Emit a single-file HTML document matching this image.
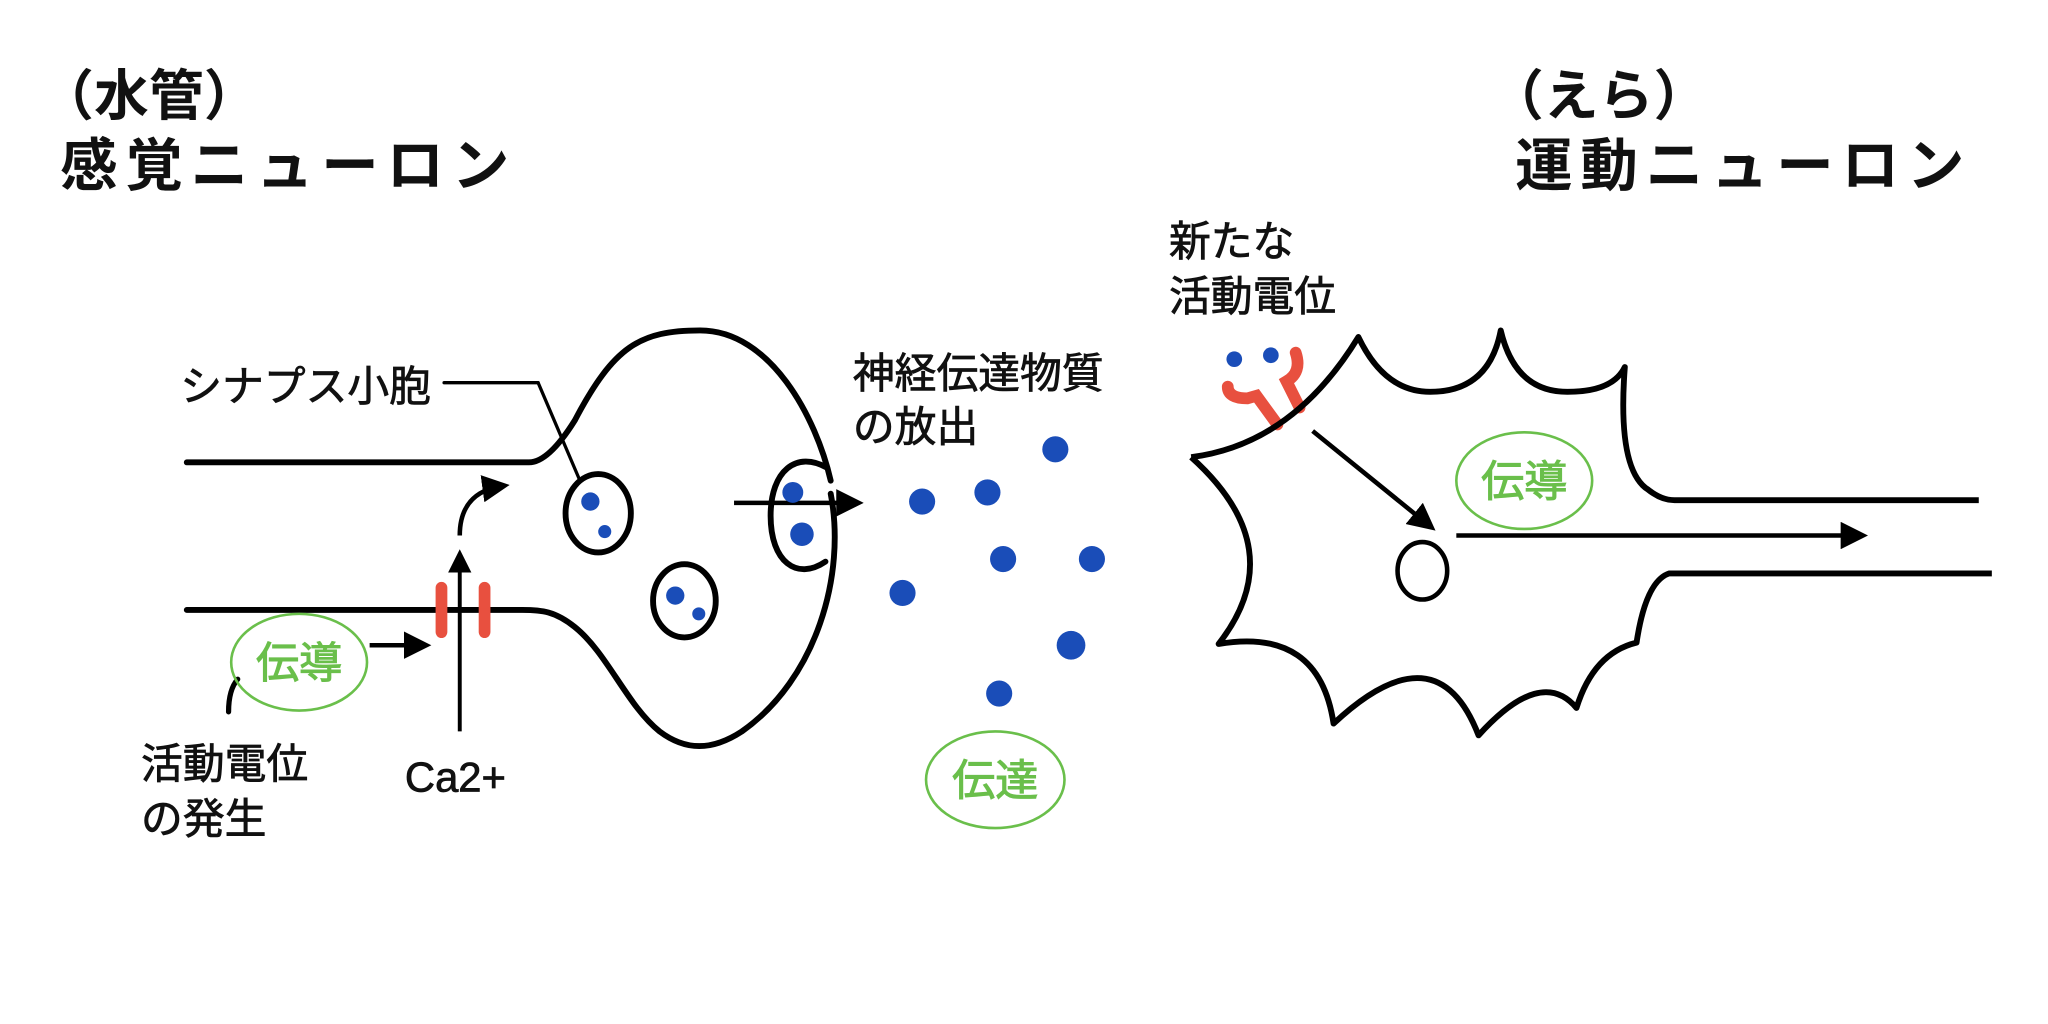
<!DOCTYPE html>
<html><head><meta charset="utf-8"><style>
html,body{margin:0;padding:0;background:#fff;}
svg{display:block;}
text{font-family:"Liberation Sans","Noto Sans CJK JP",sans-serif;}
</style></head><body>
<svg width="2048" height="1024" viewBox="0 0 1568 784" xmlns="http://www.w3.org/2000/svg">
<defs>
<marker id="ah" markerWidth="6" markerHeight="6" refX="4.5" refY="3" orient="auto" markerUnits="strokeWidth">
<path d="M0,0 L6,3 L0,6 Z" fill="#000"/></marker>
</defs>
<g font-weight="bold" fill="#111">
<text x="30" y="88" font-size="42">（水管）</text>
<text x="46" y="142" font-size="44" letter-spacing="6">感覚ニューロン</text>
<text x="1140" y="88" font-size="42">（えら）</text>
<text x="1160" y="142" font-size="44" letter-spacing="6">運動ニューロン</text>
</g>
<g font-size="32" fill="#111" stroke="#111" stroke-width="0.6">
<text x="138" y="307">シナプス小胞</text>
<text x="653" y="297">神経伝達物質</text>
<text x="653" y="338">の放出</text>
<text x="108" y="596">活動電位</text>
<text x="108" y="638">の発生</text>
<text x="310" y="606">Ca2+</text>
<text x="895" y="196">新たな</text>
<text x="895" y="238">活動電位</text>
</g>
<g fill="none" stroke="#000" stroke-width="4.5" stroke-linecap="round">
<path d="M143,354 L405,354 Q420,354 440,322 C470,265 490,253 536,253 C590,253 625,320 636,368"/>
<path d="M636,378 C648,440 625,520 568,560 C545,575 525,575 505,560 C480,540 465,500 440,480 C425,468 415,467 400,467 L143,467"/>
<path d="M633,358 C610,345 590,360 590,395 C590,430 610,445 632,430"/>
<ellipse cx="458" cy="393" rx="25" ry="30"/>
<ellipse cx="524" cy="460" rx="24" ry="28"/>
<path d="M412,293 L444,368" stroke-width="2.5"/>
<path d="M340,293 L412,293" stroke-width="2.5"/>
<path d="M175,545 Q175,528 182,520" stroke-width="4"/>
</g>
<g stroke="#000" stroke-width="3.5" fill="none">
<line x1="562" y1="385" x2="656" y2="385" marker-end="url(#ah)"/>
<path d="M352,410 C352,388 363,375 385,372" marker-end="url(#ah)"/>
<line x1="352" y1="560" x2="352" y2="425" stroke-width="3" marker-end="url(#ah)"/>
<line x1="283" y1="494" x2="325" y2="494" marker-end="url(#ah)"/>
<line x1="1005" y1="330" x2="1095" y2="403" marker-end="url(#ah)"/>
<line x1="1115" y1="410" x2="1425" y2="410" marker-end="url(#ah)"/>
</g>
<g stroke="#e8503f" stroke-width="9" stroke-linecap="round" fill="none">
<line x1="338" y1="450" x2="338" y2="484"/>
<line x1="371" y1="450" x2="371" y2="484"/>
<path d="M940,296 Q940,305 955,305 L962,303 L978,325"/>
<path d="M992,270 Q997,285 985,292 L995,312"/>
</g>
<g fill="#1a4db8">
<circle cx="607" cy="377" r="8"/><circle cx="614" cy="409" r="9"/>
<circle cx="452" cy="384" r="7"/><circle cx="463" cy="407" r="5"/>
<circle cx="517" cy="456" r="7"/><circle cx="535" cy="470" r="5"/>
<circle cx="808" cy="344" r="10"/><circle cx="706" cy="384" r="10"/>
<circle cx="756" cy="377" r="10"/><circle cx="768" cy="428" r="10"/>
<circle cx="836" cy="428" r="10"/><circle cx="691" cy="454" r="10"/>
<circle cx="820" cy="494" r="11"/><circle cx="765" cy="531" r="10"/>
<circle cx="945" cy="275" r="6"/><circle cx="973" cy="272" r="6"/>
</g>
<g fill="none" stroke="#6abf4b" stroke-width="2">
<ellipse cx="229" cy="507" rx="52" ry="37"/>
<ellipse cx="762" cy="597" rx="53" ry="37"/>
<ellipse cx="1167" cy="368" rx="52" ry="37"/>
</g>
<g fill="#6abf4b" stroke="#6abf4b" stroke-width="0.8" font-size="33" text-anchor="middle">
<text x="229" y="519">伝導</text>
<text x="762" y="609">伝達</text>
<text x="1167" y="380">伝導</text>
</g>
<g fill="none" stroke="#000" stroke-width="4.5" stroke-linejoin="round">
<path d="M912,350 Q990,340 1040,258 Q1060,300 1095,300 Q1140,300 1149,253 Q1160,300 1200,300 Q1235,300 1244,281 Q1238,360 1262,375 Q1272,383 1282,383 L1515,383"/>
<path d="M1525,439 L1278,439 Q1260,445 1253,492 Q1220,500 1207,542 Q1180,510 1132,563 Q1100,480 1021,554 Q1010,480 933,493 Q990,420 912,350"/>
<ellipse cx="1089" cy="437" rx="19" ry="22" stroke-width="3.5"/>
</g>
</svg>
</body></html>
